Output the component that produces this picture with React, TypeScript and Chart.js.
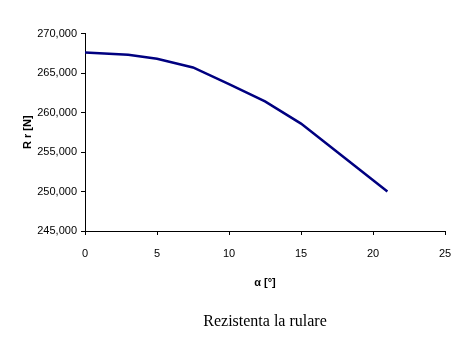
import React, { useEffect, useRef } from "react";
import { Chart, registerables } from "chart.js";

Chart.register(...registerables);

const alphaDeg = [0, 3, 5, 7.5, 10, 12.5, 15, 18, 21];
const rrValues = [267.6, 267.3, 266.8, 265.7, 263.6, 261.4, 258.6, 254.3, 250.0];
const yTicks = [245, 250, 255, 260, 265, 270];
const xTitle = "α [°]";
const yTitle = "R r [N]";
const chartTitle = "Rezistenta la rulare";

export default function App() {
  const ref = useRef<HTMLCanvasElement>(null);
  useEffect(() => {
    document.body.style.margin = "0";
    const ctx = ref.current!.getContext("2d")!;
    const chart = new Chart(ctx, {
      type: "line",
      data: {
        datasets: [
          {
            data: alphaDeg.map((a, i) => ({ x: a, y: rrValues[i] })),
            borderColor: "#000080",
            backgroundColor: "#000080",
            borderWidth: 2.5,
            pointRadius: 0,
            tension: 0,
            fill: false,
          },
        ],
      },
      options: {
        responsive: false,
        animation: false,
        layout: { padding: { top: 33.5, right: 23, left: 0, bottom: 0 } },
        plugins: {
          legend: { display: false },
          tooltip: { enabled: false },
          title: {
            display: true,
            position: "bottom",
            fullSize: false,
            text: chartTitle,
            color: "#000",
            font: { family: "'Liberation Serif', 'Times New Roman', serif", size: 16, weight: "normal" },
            padding: { top: 0, bottom: 28.4 },
          },
        },
        scales: {
          x: {
            type: "linear",
            min: 0,
            max: 25,
            ticks: {
              stepSize: 5,
              color: "#000",
              padding: 12,
              font: { family: "'Liberation Sans', Arial, sans-serif", size: 11 },
            },
            grid: { drawOnChartArea: false, drawTicks: true, tickLength: 4, color: "#000" },
            border: { display: true, color: "#000", width: 1 },
            title: {
              display: true,
              text: xTitle,
              color: "#000",
              font: { family: "'Liberation Sans', Arial, sans-serif", size: 11, weight: "bold" },
              padding: { top: 0, bottom: 22.8 },
            },
            afterFit: (s: any) => {
              s.height = 81.4;
            },
          },
          y: {
            type: "linear",
            min: 245,
            max: 270,
            afterBuildTicks: (s: any) => {
              s.ticks = yTicks.map((v) => ({ value: v }));
            },
            ticks: {
              color: "#000",
              padding: 4,
              font: { family: "'Liberation Sans', Arial, sans-serif", size: 11 },
              callback: (v: any) => Number(v).toFixed(3).replace(".", ","),
            },
            grid: { drawOnChartArea: false, drawTicks: true, tickLength: 4, color: "#000" },
            border: { display: true, color: "#000", width: 1 },
            title: {
              display: true,
              text: yTitle,
              color: "#000",
              font: { family: "'Liberation Sans', Arial, sans-serif", size: 11, weight: "bold" },
              padding: { top: 21.4, bottom: 0 },
            },
            afterFit: (s: any) => {
              s.width = 85;
            },
          },
        },
      },
    });
    return () => chart.destroy();
  }, []);
  return (
    <div style={{ position: "absolute", left: 0, top: 0, width: 468, height: 360, background: "#fff" }}>
      <canvas ref={ref} width={468} height={360} />
    </div>
  );
}
